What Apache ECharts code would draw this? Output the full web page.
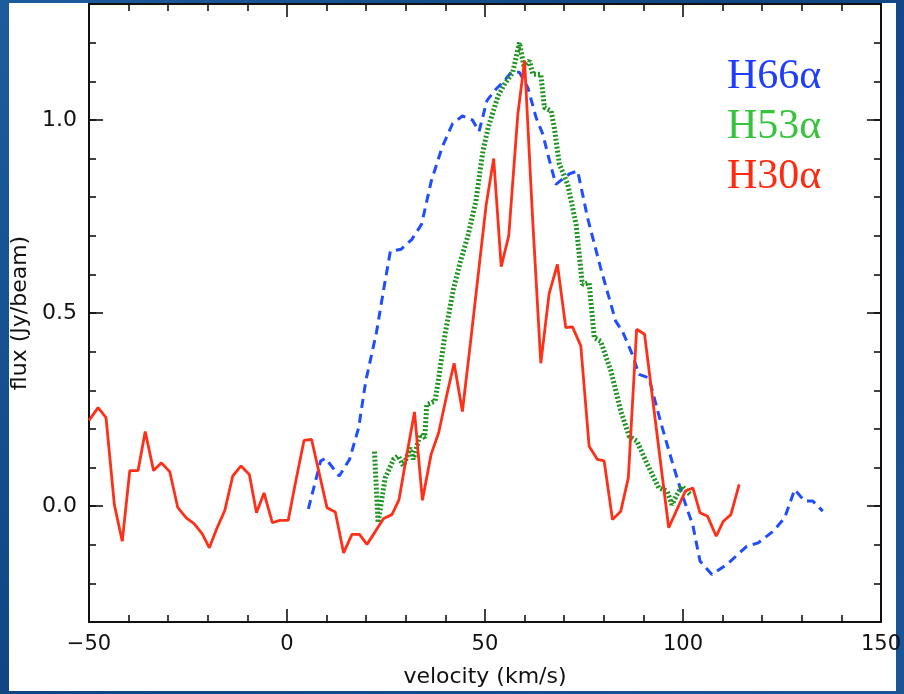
<!DOCTYPE html>
<html>
<head>
<meta charset="utf-8">
<script src="https://cdn.jsdelivr.net/npm/echarts@6/dist/echarts.min.js"></script>
<style>
html, body { margin: 0; padding: 0; }
body { width: 904px; height: 694px; overflow: hidden; position: relative;
  background: linear-gradient(135deg, #1d5c9c 0%, #0f4583 45%, #1a5696 100%); }
#paper { position: absolute; left: 9px; top: 3px; width: 887px; height: 688px; background: #fff; }
#chart { position: absolute; left: 0; top: 0; width: 904px; height: 694px; }
</style>
</head>
<body>
<div id="paper"></div>
<div id="chart"></div>
<script>
// H30alpha (red, solid)
const h30Vel = [-50, -47.7, -45.7, -43.6, -41.6, -39.7, -37.6, -35.8, -33.7, -31.7, -29.6, -27.6, -25.5, -23.4,
  -21.4, -19.6, -17.8, -15.7, -13.7, -11.6, -9.5, -7.7, -5.8, -3.7, -1.8, 0.3, 2.3, 4.3, 6.2, 10.1, 12.2, 14.3,
  16.4, 18.3, 20.2, 22.3, 24.4, 26.5, 28.3, 30.2, 32.2, 34.2, 36.4, 38.3, 40.3, 42.2, 44.3, 46.3, 48.3, 50.3,
  52.2, 54.1, 56.0, 58.3, 60.0, 62.0, 64.1, 66.2, 68.3, 70.4, 72.1, 74.2, 76.3, 78.4, 80.1, 82.2, 84.3, 86.2,
  88.3, 90.3, 96.4, 98.3, 100.6, 102.5, 104.3, 106.2, 108.4, 110.2, 112.1, 114.2]
const h30Flux = [0.222, 0.255, 0.229, 0.004, -0.091, 0.092, 0.092, 0.193, 0.092, 0.112, 0.089, -0.003, -0.030, -0.046,
  -0.072, -0.108, -0.060, -0.011, 0.078, 0.104, 0.082, -0.017, 0.034, -0.043, -0.037, -0.037, 0.069, 0.170, 0.173, -0.004, -0.015, -0.121,
  -0.073, -0.073, -0.099, -0.066, -0.032, -0.022, 0.017, 0.130, 0.244, 0.015, 0.134, 0.190, 0.285, 0.370, 0.245, 0.420, 0.600, 0.780,
  0.900, 0.620, 0.700, 1.015, 1.153, 0.750, 0.370, 0.550, 0.626, 0.462, 0.464, 0.415, 0.155, 0.121, 0.117, -0.035, -0.013, 0.073,
  0.458, 0.445, -0.056, -0.013, 0.039, 0.047, -0.017, -0.026, -0.078, -0.039, -0.022, 0.056]

// H53alpha (green, dotted)
const h53Vel = [22.1, 23.0, 24.8, 26.9, 28.1, 29.4, 31.1, 31.9, 33.6, 34.8, 35.3, 37.4, 38.2, 40.0, 42.0, 43.7, 45.7,
  47.7, 49.5, 50.8, 53.3, 54.9, 57.0, 58.7, 59.8, 61.2, 62.1, 64.1, 65.0, 66.7, 67.5, 68.8, 70.9, 73.0, 74.6, 76.3,
  77.6, 79.2, 81.8, 84.3, 86.4, 88.4, 91.0, 93.9, 96.0, 97.2, 98.5, 99.7, 101.8]
const h53Flux = [0.141, -0.043, 0.073, 0.121, 0.130, 0.104, 0.151, 0.121, 0.186, 0.177, 0.263, 0.272, 0.324, 0.450, 0.560, 0.630, 0.700,
  0.790, 0.920, 0.980, 1.062, 1.092, 1.123, 1.200, 1.140, 1.153, 1.118, 1.118, 1.032, 1.023, 0.980, 0.885, 0.833, 0.730, 0.574, 0.578,
  0.436, 0.427, 0.350, 0.246, 0.181, 0.168, 0.108, 0.047, 0.039, 0.004, 0.030, 0.052, 0.030]

// H66alpha (blue, dashed)
const h66Vel = [5.4, 8.5, 9.7, 13.2, 15.8, 18.1, 19.9, 22.6, 24.4, 26.1, 28.8, 31.5, 34.0, 36.4, 39.2, 41.8, 44.3,
  46.8, 48.5, 50.5, 52.8, 54.8, 56.6, 58.7, 60.8, 62.9, 64.6, 66.3, 67.9, 70.0, 71.3, 73.4, 75.9, 79.2, 83.0, 84.7,
  87.2, 88.9, 91.4, 94.3, 97.2, 99.8, 102.5, 104.3, 107.3, 111.1, 116.1, 119.0, 122.8, 125.7, 128.2, 130.7, 132.8, 135.3]
const h66Flux = [-0.007, 0.117, 0.124, 0.078, 0.121, 0.203, 0.324, 0.450, 0.560, 0.660, 0.665, 0.690, 0.730, 0.840, 0.930, 0.990, 1.010,
  1.000, 0.970, 1.050, 1.080, 1.100, 1.123, 1.123, 1.084, 1.006, 0.963, 0.894, 0.833, 0.850, 0.860, 0.868, 0.747, 0.617, 0.479, 0.453,
  0.393, 0.341, 0.332, 0.220, 0.117, 0.030, -0.050, -0.142, -0.177, -0.151, -0.104, -0.095, -0.065, -0.030, 0.043, 0.013, 0.013, -0.013]

const xTicks = [-50, 0, 50, 100, 150]
const yMajor = [0, 0.5, 1.0]

const zip = (a, b) => a.map((v, i) => [v, b[i]])
const ink = '#111'
const tickFont = 'DejaVu Sans'

function xAx (pos) {
  const bottom = pos === 'bottom'
  return {
    type: 'value', position: pos, min: xTicks[0], max: xTicks[xTicks.length - 1], interval: 50,
    axisLine: { show: true, onZero: false, lineStyle: { color: ink, width: 2 } },
    axisTick: { inside: true, length: 13, lineStyle: { color: ink, width: 1.6 } },
    minorTick: { show: true, splitNumber: 5, length: 7, lineStyle: { color: ink, width: 1.6 } },
    axisLabel: { show: bottom, margin: 12, color: ink, fontFamily: tickFont, fontSize: 21,
      formatter: v => v < 0 ? '\u2212' + (-v) : String(v) },
    splitLine: { show: false },
    name: bottom ? 'velocity (km/s)' : '', nameLocation: 'middle', nameGap: 44,
    nameTextStyle: { color: ink, fontFamily: tickFont, fontSize: 22 },
  }
}

function yMinor (pos) {
  return {
    type: 'value', position: pos, min: -0.3, max: 1.3, interval: 0.1,
    axisLine: { show: true, onZero: false, lineStyle: { color: ink, width: 2 } },
    axisTick: { inside: true, length: 7, lineStyle: { color: ink, width: 1.6 } },
    axisLabel: { show: false }, splitLine: { show: false },
  }
}

function yMaj (pos) {
  const left = pos === 'left'
  return {
    type: 'value', position: pos, min: -0.3, max: 1.3,
    axisLine: { show: false, onZero: false },
    axisTick: { inside: true, length: 14, customValues: yMajor, lineStyle: { color: ink, width: 1.6 } },
    axisLabel: { show: left, customValues: yMajor, margin: 12, color: ink, fontFamily: tickFont, fontSize: 22,
      formatter: v => v.toFixed(1) },
    splitLine: { show: false },
    name: left ? 'flux (Jy/beam)' : '', nameLocation: 'middle', nameGap: 58, nameRotate: 90,
    nameTextStyle: { color: ink, fontFamily: tickFont, fontSize: 22 },
  }
}

const chart = echarts.init(document.getElementById('chart'))
chart.setOption({
  backgroundColor: 'transparent',
  animation: false,
  grid: { left: 89, right: 19, top: 4, bottom: 72 },
  xAxis: [xAx('bottom'), xAx('top')],
  yAxis: [yMinor('left'), yMaj('left'), yMinor('right'), yMaj('right')],
  series: [
    { name: 'H66α', type: 'line', data: zip(h66Vel, h66Flux), showSymbol: false, symbol: 'none',
      lineStyle: { color: '#1f4dff', width: 3, type: [9, 6] } },
    { name: 'H53α', type: 'line', data: zip(h53Vel, h53Flux), showSymbol: false, symbol: 'none',
      lineStyle: { color: '#1c9420', width: 5, type: [2, 2] } },
    { name: 'H30α', type: 'line', data: zip(h30Vel, h30Flux), showSymbol: false, symbol: 'none',
      lineStyle: { color: '#ff3018', width: 2.8 } },
  ],
  graphic: [
    { type: 'text', left: 727, top: 56, style: { text: 'H66α', fill: '#1f3dff', font: '42px "Liberation Serif"' } },
    { type: 'text', left: 727, top: 106, style: { text: 'H53α', fill: '#35c43c', font: '42px "Liberation Serif"' } },
    { type: 'text', left: 727, top: 156, style: { text: 'H30α', fill: '#ff2a10', font: '42px "Liberation Serif"' } },
  ],
})
</script>
</body>
</html>
